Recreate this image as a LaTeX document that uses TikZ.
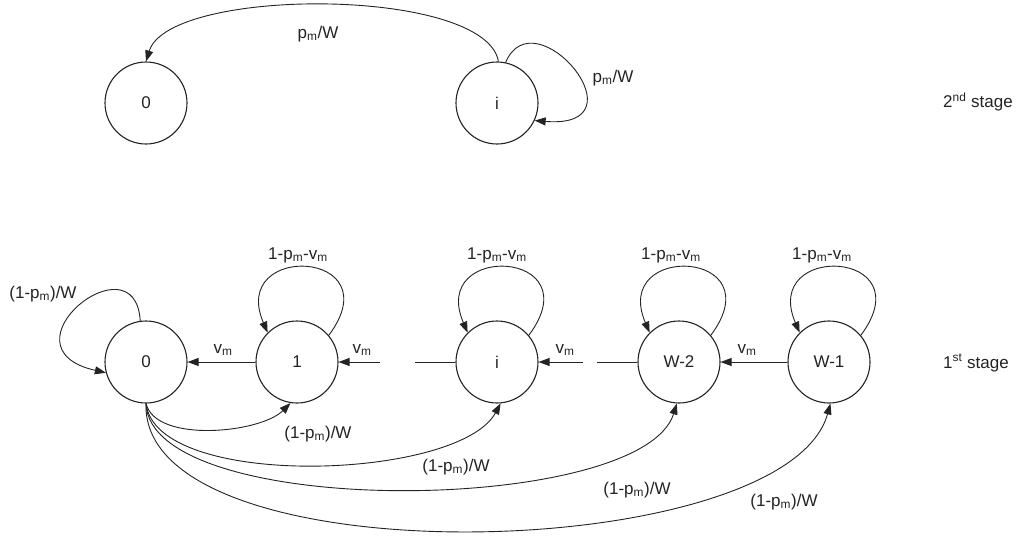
\documentclass[tikz,border=0pt]{standalone}
\usepackage{fontspec}
\setmainfont{Liberation Sans}
\usetikzlibrary{arrows.meta}
\definecolor{ink}{RGB}{35,35,35}
\begin{document}
\begin{tikzpicture}[x=1pt,y=-1pt,
  state/.style={draw=ink, circle, minimum size=82pt, inner sep=0pt, line width=1.1pt, text=ink, font=\fontsize{17}{20}\selectfont},
  lbl/.style={text=ink, font=\fontsize{17}{20}\selectfont, inner sep=0pt},
  arr/.style={draw=ink, line width=0.9pt, -{Triangle[length=11pt,width=8pt]}},
  ln/.style={draw=ink, line width=0.9pt}]
\useasboundingbox (0,0) rectangle (1022,541);
% second stage
\node[state] (t0) at (146,103) {0};
\node[state] (ti) at (497,103) {i};
% first stage
\node[state] (b0) at (146,362) {0};
\node[state] (b1) at (297,362) {1};
\node[state] (bi) at (497,362) {i};
\node[state] (bw2) at (679,362) {W-2};
\node[state] (bw1) at (829,362) {W-1};
\coordinate (in1) at (380,362);
\coordinate (outi) at (415,362);
\coordinate (ini) at (583,362);
\coordinate (outw2) at (597,362);
% second stage edges
\draw[arr] (ti.88) .. controls +(-13,-75) and +(23,-75) .. (t0.90);
\draw[arr] (ti.78) .. controls +(29,-68) and +(113,9) .. (ti.-25);
\node[lbl] (lt1) at (318,34) {p\textsubscript{m}/W};
\node[lbl] (lt2) at (613,78) {p\textsubscript{m}/W};
% first stage horizontal edges
\draw[arr] (b1) -- (b0);
\draw[arr] (in1) -- (b1);
\draw[ln] (bi) -- (outi);
\draw[arr] (ini) -- (bi);
\draw[ln] (bw2) -- (outw2);
\draw[arr] (bw1) -- (bw2);
\node[lbl] (v1) at (223,350) {v\textsubscript{m}};
\node[lbl] (v2) at (362,350) {v\textsubscript{m}};
\node[lbl] (v3) at (565,350) {v\textsubscript{m}};
\node[lbl] (v4) at (747,350) {v\textsubscript{m}};
% self loops
\draw[arr] (b0.98) .. controls +(-5,-85) and +(-110,-25) .. (b0.195);
\node[lbl] (l0) at (43,294) {(1-p\textsubscript{m})/W};
\foreach \n in {b1,bi,bw2,bw1}
  \draw[arr] (\n.40) .. controls +(64,-86) and +(-39,-91) .. (\n.135);
\node[lbl] (s1) at (298,255) {1-p\textsubscript{m}-v\textsubscript{m}};
\node[lbl] (s2) at (497,255) {1-p\textsubscript{m}-v\textsubscript{m}};
\node[lbl] (s3) at (671,255) {1-p\textsubscript{m}-v\textsubscript{m}};
\node[lbl] (s4) at (822,255) {1-p\textsubscript{m}-v\textsubscript{m}};
% long arcs from 0
\draw[arr] (b0.south) .. controls +(10,40) and +(-30,30) .. (b1.261);
\draw[arr] (b0.south) .. controls +(10,87) and +(-42,77) .. (bi.275);
\draw[arr] (b0.south) .. controls +(4,117) and +(-35,112) .. (bw2.267);
\draw[arr] (b0.south) .. controls +(-6,177) and +(-45,162) .. (bw1.272);
\node[lbl] (a1) at (318,434) {(1-p\textsubscript{m})/W};
\node[lbl] (a2) at (456,467) {(1-p\textsubscript{m})/W};
\node[lbl] (a3) at (637,490) {(1-p\textsubscript{m})/W};
\node[lbl] (a4) at (784,502) {(1-p\textsubscript{m})/W};
% stage labels
\node[lbl, anchor=west] (st2) at (943,102) {2\textsuperscript{nd} stage};
\node[lbl, anchor=west] (st1) at (943,363) {1\textsuperscript{st} stage};
\end{tikzpicture}
\end{document}
